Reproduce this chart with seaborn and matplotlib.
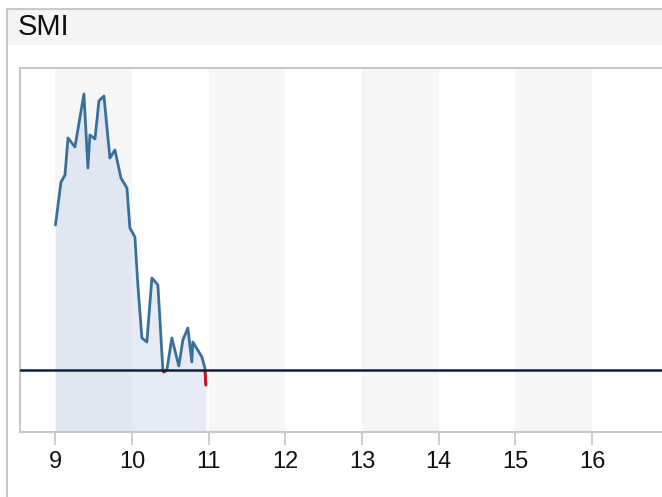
import matplotlib
matplotlib.use("Agg")
import matplotlib.pyplot as plt
from matplotlib.patches import Rectangle
from matplotlib.lines import Line2D
import seaborn as sns
import pandas as pd

# intraday SMI values (hour of day, index level)
hours = [9.000, 9.072, 9.124, 9.163, 9.254, 9.371, 9.423, 9.449, 9.515,
         9.567, 9.632, 9.710, 9.775, 9.854, 9.932, 9.971, 10.036, 10.075,
         10.127, 10.192, 10.258, 10.336, 10.401, 10.414, 10.453, 10.518,
         10.609, 10.662, 10.727, 10.779, 10.792, 10.910, 10.949, 10.962]
levels = [8658.0, 8675.2, 8678.0, 8692.8, 8689.2, 8710.4, 8680.8, 8694.0,
          8692.4, 8707.6, 8709.6, 8684.8, 8688.0, 8676.8, 8672.8, 8656.8,
          8653.2, 8634.0, 8612.8, 8611.2, 8636.8, 8634.0, 8600.0, 8599.2,
          8600.0, 8612.8, 8601.6, 8612.0, 8616.8, 8603.2, 8611.2, 8605.2,
          8600.8, 8594.0]
prev_close = 8600.0
hour_ticks = [9, 10, 11, 12, 13, 14, 15, 16]
shaded_hours = [9, 11, 13, 15]

df = pd.DataFrame({"hour": hours, "level": levels})

sns.set_style("white")
plt.rcParams["font.family"] = ["Liberation Sans", "DejaVu Sans"]

fig = plt.figure(figsize=(6.62, 4.97), dpi=100)
W, H = 662, 497

# panel frame + header
frame_col = "#c9c9c9"
fig.patches.append(Rectangle((7 / W, 1 - 45 / H), 1, 36 / H, transform=fig.transFigure,
                             facecolor="#f5f5f5", edgecolor="none", zorder=0))
fig.lines.append(Line2D([7 / W, 1], [1 - 9 / H] * 2, transform=fig.transFigure,
                        color=frame_col, lw=1.5))
fig.lines.append(Line2D([7 / W] * 2, [0, 1 - 9 / H], transform=fig.transFigure,
                        color=frame_col, lw=1.5))
fig.text(18 / W, 1 - 27 / H, "SMI", fontsize=21, va="center", ha="left", color="#111111")

ax = fig.add_axes([20 / W, 1 - 432 / H, 1 - 20 / W + 0.01, 364 / H])
ymin, ymax = 8575.2, 8720.8
ax.set_xlim(8.537, 16.913 + 0.01 * W / 76.7)
ax.set_ylim(ymin, ymax)

for h in shaded_hours:
    ax.axvspan(h, h + 1, color="#f6f6f6", lw=0, zorder=0)

ax.fill_between(df["hour"], df["level"], ymin, color="#c8d3ea", alpha=0.45, lw=0, zorder=1)

# blue line, then the same line in red clipped to the part below the previous close
sns.lineplot(data=df, x="hour", y="level", ax=ax, color="#39709a", lw=2.0, zorder=3)
sns.lineplot(data=df, x="hour", y="level", ax=ax, color="#d0101a", lw=2.0, zorder=4)
clip = Rectangle((8, ymin), 10, prev_close - ymin, transform=ax.transData)
ax.lines[-1].set_clip_path(clip)

ax.axhline(prev_close, color="#0c2144", lw=1.8, zorder=5)

ax.set_xticks(hour_ticks)
ax.set_xticklabels([str(h) for h in hour_ticks])
ax.set_yticks([])
ax.set_xlabel("")
ax.set_ylabel("")
ax.tick_params(axis="x", bottom=True, length=9.5, width=1.4, color="#cccccc",
               labelsize=17, pad=4, labelcolor="#111111")
for side in ["top", "left", "bottom"]:
    ax.spines[side].set_visible(True)
    ax.spines[side].set_color("#c8c8c8")
    ax.spines[side].set_linewidth(1.5)
ax.spines["right"].set_visible(False)

fig.savefig("out.png", dpi=100)
